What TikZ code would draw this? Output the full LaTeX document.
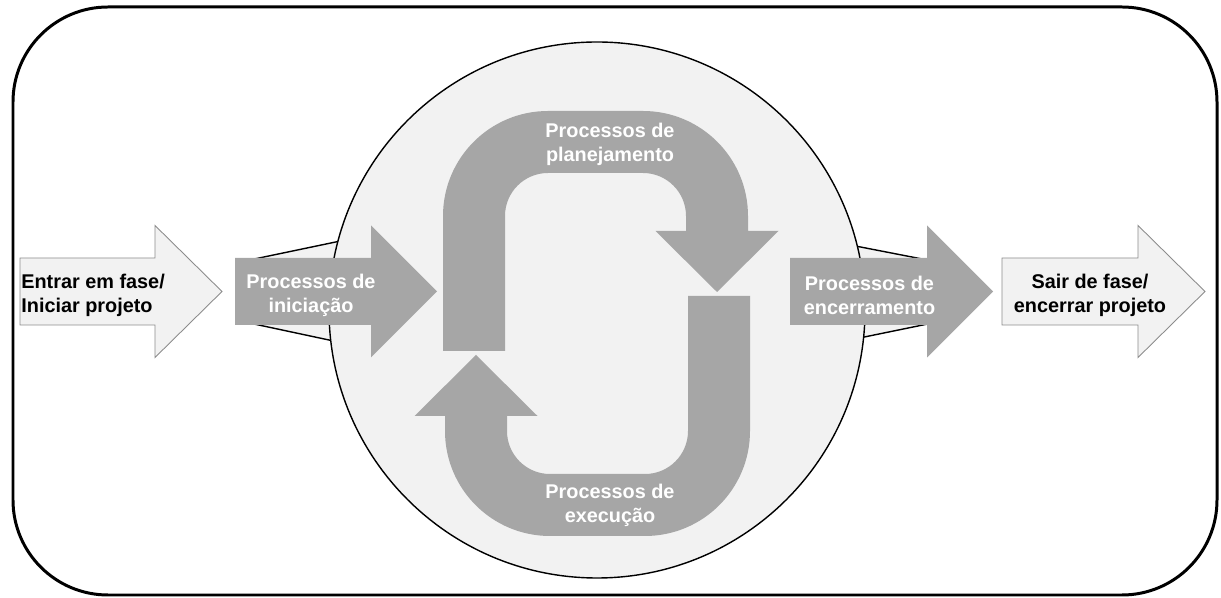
\documentclass[tikz,border=0pt]{standalone}
\usepackage{fontspec}
\setmainfont{Liberation Sans}
\usepackage{xcolor}
\usepackage{tikz}

\definecolor{lightfill}{HTML}{F2F2F2}
\definecolor{darkfill}{HTML}{A6A6A6}
\definecolor{edgegray}{HTML}{8C8C8C}

\begin{document}
\begin{tikzpicture}[
        x=0.02cm, y=0.02cm,
        every node/.style={font=\fontsize{11.3pt}{13.7pt}\selectfont\bfseries, align=center, inner sep=0pt},
        lightarrow/.style={fill=lightfill, draw=edgegray, line width=0.5pt},
        darkarrow/.style={fill=darkfill},
        darktxt/.style={text=white},
        lens/.style={fill=lightfill, draw=black, line width=0.8pt}
    ]

        \useasboundingbox (0,0) rectangle (1221,598);

        % outer frame
        \draw[line width=1.7pt, rounded corners=1.9cm] (13,3) rectangle (1217,591);

        % joints between the side arrows and the circle
        \filldraw[lens] (240,336) -- (350,359) -- (350,253.5) -- (240,277) -- cycle;
        \filldraw[lens] (840,355) -- (935,336.5) -- (935,275.5) -- (840,256) -- cycle;

        \filldraw[fill=lightfill, draw=black, line width=0.8pt] (597,288) circle[radius=268];

        % straight arrows
        \filldraw[lightarrow] (20,273) -- (155,273) -- (155,240.5) -- (222,306.5)
            -- (155,372.5) -- (155,340) -- (20,340) -- cycle;
        \fill[darkarrow] (235,273) -- (371,273) -- (371,240.5) -- (437,306.5)
            -- (371,372.5) -- (371,340) -- (235,340) -- cycle;
        \fill[darkarrow] (790,273) -- (927,273) -- (927,240.5) -- (993,306.5)
            -- (927,372.5) -- (927,340) -- (790,340) -- cycle;
        \filldraw[lightarrow] (1002,273) -- (1138,273) -- (1138,240.5) -- (1205,306.5)
            -- (1138,372.5) -- (1138,340) -- (1002,340) -- cycle;

        % the two bent arrows of the cycle
        \foreach \turn in {0,180}{
            \fill[darkarrow, rotate around={\turn:(596.5,274.5)}]
                (443,247) -- (443,382) arc[start angle=180, end angle=90, radius=105]
                -- (643,487) arc[start angle=90, end angle=0, radius=105]
                -- (748,367) -- (778.5,367) -- (717,306) -- (655.5,367) -- (686,367)
                -- (686,382) arc[start angle=0, end angle=90, radius=43]
                -- (548,425) arc[start angle=90, end angle=180, radius=43]
                -- (505,247) -- cycle;
        }

        \node[anchor=west, align=left] (entrar) at (21,303) {Entrar em fase/\\Iniciar projeto};
        \node[darktxt] (inic)   at (311,303)   {Processos de\\iniciação};
        \node[darktxt] (planej) at (610,454)   {Processos de\\planejamento};
        \node[darktxt] (exec)   at (610,93)    {Processos de\\execução};
        \node[darktxt] (encerr) at (869.5,303) {Processos de\\encerramento};
        \node (sair) at (1090,303) {Sair de fase/\\encerrar projeto};

    \end{tikzpicture}
\end{document}
